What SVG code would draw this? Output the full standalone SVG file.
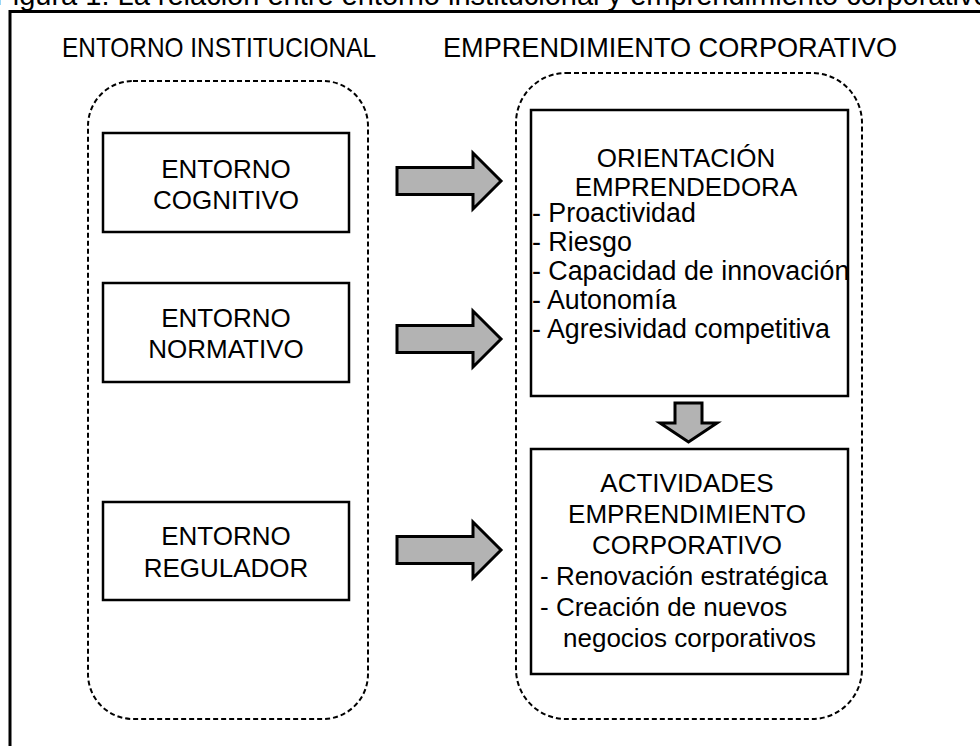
<svg xmlns="http://www.w3.org/2000/svg" width="980" height="746" viewBox="0 0 980 746">
<style>
text{font-family:"Liberation Sans",Arial,sans-serif;fill:#000}
.t{font-size:29px}
.h{font-size:27.5px}
.b{font-size:26px}
.l{font-size:26.8px}
.c{text-anchor:middle}
.box{fill:#fff;stroke:#000;stroke-width:2.5}
.grp{fill:none;stroke:#000;stroke-width:2;stroke-dasharray:5 3}
.arr{fill:#b3b3b3;stroke:#000;stroke-width:3;stroke-linejoin:miter}
</style>
<rect x="0" y="0" width="980" height="746" fill="#fff"/>
<text class="t" x="-5" y="5">Figura 1: La relación entre entorno institucional y emprendimiento corporativo</text>
<rect x="10" y="11.5" width="1000" height="800" fill="none" stroke="#000" stroke-width="3"/>
<text class="h" x="62" y="57" textLength="314" lengthAdjust="spacingAndGlyphs">ENTORNO INSTITUCIONAL</text>
<text class="h" x="443" y="57" textLength="454" lengthAdjust="spacingAndGlyphs">EMPRENDIMIENTO CORPORATIVO</text>
<g id="group-entorno">
<rect class="grp" x="88" y="81" width="280" height="638" rx="45" ry="45"/>
</g>
<g id="group-emprendimiento">
<rect class="grp" x="516" y="73" width="346" height="646" rx="50" ry="50"/>
</g>
<g id="cognitivo">
<rect class="box" x="103" y="133" width="246" height="99"/>
<text class="b c" x="226" y="178">ENTORNO</text>
<text class="b c" x="226" y="209">COGNITIVO</text>
</g>
<g id="normativo">
<rect class="box" x="103" y="283" width="246" height="99"/>
<text class="b c" x="226" y="327">ENTORNO</text>
<text class="b c" x="226" y="358">NORMATIVO</text>
</g>
<g id="regulador">
<rect class="box" x="103" y="502" width="246" height="98"/>
<text class="b c" x="226" y="545">ENTORNO</text>
<text class="b c" x="226" y="577">REGULADOR</text>
</g>
<g id="orientacion">
<rect class="box" x="531" y="110" width="317" height="286"/>
<text class="b c" x="686" y="167">ORIENTACIÓN</text>
<text class="b c" x="686" y="196">EMPRENDEDORA</text>
<text class="l" x="532" y="222">- Proactividad</text>
<text class="l" x="532" y="251">- Riesgo</text>
<text class="l" x="532" y="280">- Capacidad de innovación</text>
<text class="l" x="532" y="309">- Autonomía</text>
<text class="l" x="532" y="338">- Agresividad competitiva</text>
</g>
<g id="actividades">
<rect class="box" x="531" y="449" width="317" height="225"/>
<text class="b c" x="687" y="492">ACTIVIDADES</text>
<text class="b c" x="687" y="523">EMPRENDIMIENTO</text>
<text class="b c" x="687" y="554">CORPORATIVO</text>
<text class="b" x="540" y="585">- Renovación estratégica</text>
<text class="b" x="540" y="616">- Creación de nuevos</text>
<text class="b" x="563" y="647">negocios corporativos</text>
</g>
<g id="connectors">
<path class="arr" d="M397,167.5 H473 V153 L501,181 L473,209 V194.5 H397 Z"/>
<path class="arr" d="M397,325.5 H473 V311 L501,339 L473,367 V352.5 H397 Z"/>
<path class="arr" d="M397,536.5 H473 V522 L501,550 L473,578 V563.5 H397 Z"/>
<path class="arr" d="M675,403 H702 V423 H717 L688.5,442 L660,423 H675 Z"/>
</g>
</svg>
